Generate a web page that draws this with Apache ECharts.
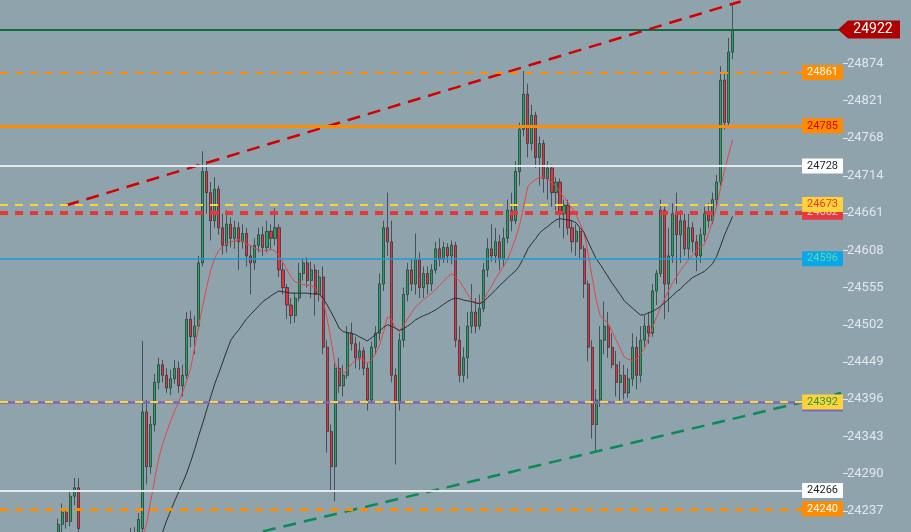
<!DOCTYPE html>
<html>
<head>
<meta charset="utf-8">
<script src="https://cdn.jsdelivr.net/npm/echarts@6.0.0/dist/echarts.min.js"></script>
<style>
  html, body { margin: 0; padding: 0; background: #8fa3ad; }
  #main { width: 911px; height: 532px; }
</style>
</head>
<body>
<div id="main"></div>
<script>
// slots on the time axis, first visible bar sits at slot 14
var barCount = 210
var firstBar = 14

// [open, close, low, high]
var candles = [
  [24205,24218,24195,24226],[24218,24235,24205,24248],[24235,24222,24212,24240],[24222,24258,24215,24266],
  [24258,24270,24245,24284],[24270,24212,24205,24284],[24200,24185,24175,24203],[24185,24170,24160,24195],
  [24170,24178,24158,24190],[24178,24165,24150,24185],[24165,24172,24155,24188],[24172,24160,24148,24182],
  [24160,24168,24150,24180],[24168,24175,24160,24190],[24175,24182,24165,24195],[24182,24178,24168,24198],
  [24178,24188,24170,24200],[24188,24195,24180,24202],[24195,24205,24188,24213],[24205,24200,24192,24214],
  [24200,24225,24195,24234],[24212,24378,24205,24479],[24378,24300,24275,24395],[24300,24360,24290,24372],
  [24360,24420,24350,24432],[24420,24445,24410,24455],[24445,24430,24420,24452],[24430,24412,24405,24440],
  [24412,24425,24402,24438],[24425,24440,24418,24452],[24440,24415,24405,24450],[24415,24430,24400,24445],
  [24430,24510,24425,24520],[24510,24485,24470,24522],[24485,24500,24460,24515],[24500,24590,24495,24600],
  [24590,24720,24585,24749],[24720,24690,24660,24735],[24690,24650,24622,24705],[24650,24695,24640,24712],
  [24695,24640,24630,24700],[24640,24615,24602,24660],[24615,24645,24605,24665],[24645,24625,24612,24655],
  [24625,24640,24610,24650],[24640,24620,24580,24648],[24620,24632,24610,24645],[24632,24600,24585,24640],
  [24600,24590,24545,24615],[24590,24615,24580,24625],[24615,24630,24605,24640],[24630,24612,24600,24642],
  [24612,24635,24605,24650],[24635,24625,24610,24645],[24625,24640,24615,24668],[24640,24580,24570,24645],
  [24580,24555,24545,24590],[24555,24530,24510,24560],[24530,24515,24503,24540],[24515,24540,24505,24548],
  [24540,24575,24535,24590],[24575,24590,24565,24597],[24590,24565,24555,24598],[24565,24580,24540,24592],
  [24580,24545,24515,24588],[24545,24570,24535,24580],[24570,24470,24460,24585],[24470,24350,24320,24480],
  [24350,24300,24265,24360],[24300,24440,24251,24448],[24440,24415,24405,24455],[24415,24430,24400,24445],
  [24430,24490,24425,24500],[24490,24475,24465,24505],[24475,24455,24440,24485],[24455,24465,24438,24478],
  [24465,24440,24430,24470],[24440,24395,24380,24448],[24395,24470,24390,24478],[24470,24490,24460,24500],
  [24490,24560,24480,24575],[24560,24640,24550,24650],[24640,24620,24600,24690],[24620,24430,24420,24650],
  [24430,24390,24303,24440],[24390,24480,24380,24490],[24480,24545,24470,24555],[24545,24580,24535,24590],
  [24580,24560,24550,24595],[24560,24595,24545,24632],[24595,24555,24540,24605],[24555,24575,24540,24585],
  [24575,24560,24545,24585],[24560,24580,24550,24588],[24580,24610,24575,24620],[24610,24595,24585,24625],
  [24595,24612,24590,24620],[24612,24600,24590,24618],[24600,24615,24588,24622],[24615,24480,24470,24620],
  [24480,24430,24420,24500],[24430,24455,24420,24470],[24455,24500,24425,24520],[24500,24520,24490,24560],
  [24520,24500,24490,24540],[24500,24525,24495,24545],[24525,24580,24520,24590],[24580,24610,24570,24625],
  [24610,24600,24592,24645],[24600,24620,24590,24640],[24620,24595,24580,24630],[24595,24625,24585,24640],
  [24625,24665,24618,24680],[24665,24650,24635,24690],[24650,24720,24645,24735],[24720,24780,24700,24790],
  [24780,24830,24770,24863],[24830,24760,24740,24845],[24760,24800,24750,24815],[24800,24740,24725,24805],
  [24740,24760,24700,24770],[24760,24710,24690,24765],[24710,24725,24680,24735],[24725,24690,24670,24730],
  [24690,24705,24665,24712],[24705,24660,24640,24710],[24660,24672,24625,24680],[24672,24640,24630,24680],
  [24640,24620,24605,24650],[24620,24635,24600,24645],[24635,24610,24595,24640],[24610,24560,24540,24615],
  [24560,24470,24450,24565],[24470,24360,24340,24480],[24360,24395,24322,24410],[24395,24480,24385,24500],
  [24480,24500,24460,24535],[24500,24470,24455,24520],[24470,24445,24440,24490],[24445,24420,24400,24465],
  [24420,24430,24394,24450],[24430,24405,24396,24445],[24405,24425,24398,24440],[24425,24470,24415,24490],
  [24470,24430,24410,24485],[24430,24480,24420,24500],[24480,24500,24470,24515],[24500,24490,24475,24520],
  [24490,24550,24485,24560],[24550,24575,24530,24580],[24575,24665,24570,24680],[24665,24560,24510,24670],
  [24560,24600,24520,24640],[24600,24660,24590,24675],[24660,24630,24560,24690],[24630,24650,24590,24665],
  [24650,24610,24600,24660],[24610,24640,24595,24660],[24640,24620,24605,24648],[24620,24600,24578,24630],
  [24600,24630,24590,24640],[24630,24660,24620,24670],[24660,24650,24640,24675],[24650,24680,24645,24690],
  [24680,24705,24670,24715],[24705,24850,24700,24870],[24850,24790,24780,24860],[24790,24890,24785,24910],
  [24890,24922,24880,24958]
]

// fast (red) and slow (black) averages, same slots as candles
var maFast = [
  '-','-','-','-','-','-','-','-','-','-','-','-','-','-','-','-','-','-','-',
  24160,24180,24200,24218,24250,24281,24311,24332,24349,24365,24379,24392,24406,24422,24440,24470,
  24500,24529,24556,24580,24597,24608,24613,24618,24620,24621,24623,24621,24617,24614,24611,24608,
  24607,24608,24609,24607,24600,24591,24580,24570,24563,24561,24559,24558,24558,24554,24546,24537,
  24510,24479,24445,24437,24432,24438,24446,24451,24454,24452,24447,24452,24460,24472,24491,24513,
  24510,24497,24492,24501,24510,24519,24527,24533,24538,24542,24547,24552,24558,24564,24570,24575,
  24569,24564,24555,24545,24536,24534,24532,24538,24548,24558,24568,24577,24586,24596,24610,24626,
  24645,24672,24699,24705,24709,24712,24711,24708,24704,24699,24691,24683,24676,24668,24659,24646,
  24633,24603,24570,24538,24515,24509,24504,24492,24480,24468,24456,24453,24451,24453,24460,24468,
  24482,24497,24512,24526,24538,24550,24561,24570,24579,24587,24594,24601,24607,24613,24616,24632,
  24649,24670,24696,24722,24744,24765
]
var maSlow = [
  '-','-','-','-','-','-','-','-','-','-','-','-','-','-','-','-','-','-','-','-','-','-','-','-',
  24180,24195,24207,24223,24237,24251,24264,24277,24291,24307,24325,24344,24362,24381,24400,24418,
  24433,24449,24465,24480,24488,24495,24503,24511,24517,24523,24529,24535,24539,24543,24547,24550,
  24549,24548,24547,24547,24547,24547,24547,24546,24546,24546,24540,24530,24520,24509,24497,24492,
  24491,24490,24488,24485,24482,24479,24483,24488,24493,24498,24502,24500,24497,24494,24496,24500,
  24504,24509,24512,24515,24517,24520,24523,24527,24531,24535,24538,24540,24539,24537,24536,24535,
  24533,24532,24535,24541,24546,24552,24558,24563,24569,24574,24579,24587,24598,24610,24618,24625,
  24633,24638,24642,24647,24651,24653,24652,24651,24650,24647,24640,24633,24620,24608,24596,24588,
  24579,24570,24561,24553,24545,24536,24531,24526,24521,24516,24516,24519,24521,24524,24528,24533,
  24538,24543,24549,24553,24559,24564,24569,24572,24575,24578,24583,24589,24599,24614,24630,24643,
  24656
]

var yTicks = [24237, 24290, 24343, 24396, 24449, 24502, 24555, 24608, 24661, 24714, 24768, 24821, 24874]
var yRange = [24207.1, 24964.1]
var lastPrice = 24922

// horizontal levels: value, line colour, type, width, tag bg, tag text
var levelValues = [24861, 24785, 24728, 24662, 24673, 24596, 24392, 24392, 24266, 24240]
var levelColors = ['#ff8c00', '#ff8c00', '#e6e9ea', '#e53935', '#ffd23a', '#1e9ad6', '#7d68b8', '#ffd23a', '#e6e9ea', '#ff8c00']
var levelTypes  = ['dashed', 'solid', 'solid', 'dashed', 'dashed', 'solid', 'solid', 'dashed', 'solid', 'dashed']
var levelWidths = [2, 3, 2, 4, 2, 1.5, 2.5, 2, 2, 3]
var tagBg   = ['#ff8c00', '#ff8c00', '#ffffff', '#e5393f', '#ffd23a', '#0aa6ea', '#7d68b8', '#ffd23a', '#ffffff', '#ff8c00']
var tagText = ['#ffffff', '#d50000', '#1c2226', '#ffc7c7', '#e53935', '#5fd8a8', '#7d68b8', '#1b9a4e', '#1c2226', '#ffffff']

// trend lines: [slot, price] end points
var resistTrend = [[16, 24672], [184, 24962]]
var supportTrend = [[65, 24208], [209, 24405]]

var categories = []
for (var i = 0; i < barCount; i++) categories.push(i + 1)

function pad (arr) {
  var out = []
  for (var k = 0; k < firstBar; k++) out.push('-')
  return out.concat(arr)
}

var levelLines = levelValues.map(function (v, k) {
  return {
    yAxis: v,
    lineStyle: {
      color: levelColors[k],
      type: levelTypes[k] === 'dashed' ? [8, 7] : 'solid',
      width: levelWidths[k]
    },
    label: {
      show: true,
      position: 'insideEnd',
      distance: [0, 0],
      offset: k === 6 ? [0, 2] : [0, 0],
      formatter: String(v),
      backgroundColor: tagBg[k],
      color: tagText[k],
      fontFamily: 'Roboto',
      fontSize: 11,
      lineHeight: 12,
      padding: [2, 5, 1, 5]
    }
  }
})

var trendLines = [
  [{ coord: resistTrend[0] }, { coord: resistTrend[1] }],
  [{ coord: supportTrend[0] }, { coord: supportTrend[1] }]
]
trendLines[0][0].lineStyle = { color: '#d30000', type: [13, 8], width: 2.5 }
trendLines[1][0].lineStyle = { color: '#0b8a58', type: [13, 8], width: 2.5 }

var chart = echarts.init(document.getElementById('main'), null, { renderer: 'canvas' })

var option = {
  backgroundColor: '#8fa3ad',
  animation: false,
  grid: { left: 0, right: 68, top: 0, bottom: 0 },
  xAxis: {
    type: 'category',
    data: categories,
    boundaryGap: true,
    show: false
  },
  yAxis: {
    type: 'value',
    position: 'right',
    min: yRange[0],
    max: yRange[1],
    splitLine: { show: false },
    axisLine: { show: false },
    axisTick: {
      show: true,
      customValues: yTicks,
      length: 5,
      lineStyle: { color: '#e2e7ea', width: 1 }
    },
    axisLabel: {
      customValues: yTicks,
      color: '#e2e7ea',
      fontFamily: 'Roboto',
      fontSize: 13,
      margin: 4,
      formatter: function (v) { return String(Math.round(v)) }
    }
  },
  series: [
    {
      type: 'candlestick',
      data: pad(candles),
      barWidth: 2.6,
      clip: true,
      itemStyle: {
        color: '#1fa85c',
        color0: '#ec2f3a',
        borderColor: '#262e33',
        borderColor0: '#262e33',
        borderWidth: 0.7
      },
      markLine: {
        silent: true,
        symbol: ['none', 'none'],
        animation: false,
        data: [
          {
            yAxis: lastPrice,
            lineStyle: { color: '#0e6b43', type: 'solid', width: 2 },
            label: { show: false }
          }
        ].concat(trendLines).concat(levelLines)
      },
      markPoint: {
        silent: true,
        animation: false,
        data: [{
          x: 869,
          yAxis: lastPrice,
          value: lastPrice,
          symbol: 'path://M0,9L10,0L62,0L62,18L10,18Z',
          symbolSize: [62, 18],
          itemStyle: { color: '#b00000' },
          label: {
            show: true,
            position: 'inside',
            offset: [4, 0],
            formatter: String(lastPrice),
            color: '#ffffff',
            fontFamily: 'Roboto',
            fontSize: 14
          }
        }]
      }
    },
    {
      type: 'line',
      data: pad(maFast),
      symbol: 'none',
      lineStyle: { color: '#e0474c', width: 1 },
      z: 3
    },
    {
      type: 'line',
      data: pad(maSlow),
      symbol: 'none',
      lineStyle: { color: '#2b2f33', width: 1 },
      z: 3
    }
  ]
}

chart.setOption(option)
</script>
</body>
</html>
